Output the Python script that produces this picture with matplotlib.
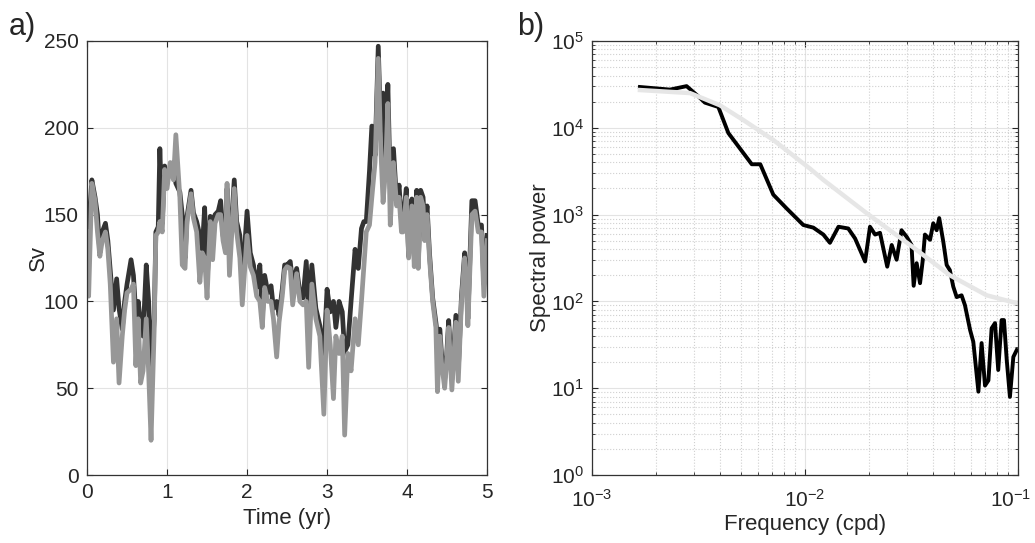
import numpy as np
import matplotlib
matplotlib.use("Agg")
import matplotlib.pyplot as plt
import matplotlib.transforms as mtransforms
from matplotlib.ticker import LogLocator, NullFormatter

plt.rcParams['font.family'] = ['Liberation Sans', 'DejaVu Sans']
plt.rcParams['mathtext.fontset'] = 'custom'
plt.rcParams['mathtext.rm'] = 'Liberation Sans'
plt.rcParams['mathtext.it'] = 'Liberation Sans:italic'
plt.rcParams['mathtext.bf'] = 'Liberation Sans:bold'

# panel a) time series (years, Sv)
t = [0.00, 0.02, 0.06, 0.10, 0.13, 0.16, 0.19, 0.23, 0.26, 0.29, 0.33, 0.37, 0.40, 0.44,
     0.47, 0.50, 0.55, 0.58, 0.61, 0.64, 0.67, 0.70, 0.74, 0.77, 0.80, 0.84, 0.86, 0.89,
     0.91, 0.94, 0.97, 1.00, 1.04, 1.08, 1.11, 1.16, 1.19, 1.225, 1.25, 1.30, 1.33, 1.37,
     1.41, 1.44, 1.47, 1.50, 1.54, 1.57, 1.60, 1.64, 1.67, 1.70, 1.73, 1.75, 1.78, 1.84,
     1.87, 1.91, 1.94, 2.00, 2.04, 2.08, 2.12, 2.16, 2.19, 2.22, 2.26, 2.30, 2.33, 2.37,
     2.40, 2.44, 2.47, 2.50, 2.54, 2.57, 2.62, 2.66, 2.70, 2.74, 2.77, 2.81, 2.86, 2.91,
     2.96, 3.00, 3.04, 3.08, 3.11, 3.15, 3.19, 3.22, 3.26, 3.30, 3.35, 3.39, 3.43, 3.46,
     3.49, 3.53, 3.56, 3.60, 3.64, 3.67, 3.70, 3.73, 3.76, 3.79, 3.83, 3.87, 3.90, 3.93,
     3.95, 3.99, 4.02, 4.06, 4.09, 4.12, 4.14, 4.17, 4.20, 4.22, 4.25, 4.28, 4.32, 4.36,
     4.38, 4.41, 4.43, 4.47, 4.49, 4.52, 4.56, 4.61, 4.64, 4.68, 4.72, 4.74, 4.76, 4.81,
     4.85, 4.89, 4.93, 4.96, 5.00]
sv_dark = [150, 142, 170, 160, 150, 128, 140, 145, 135, 118, 95, 113, 96, 84,
           100, 110, 124, 115, 92, 100, 86, 80, 121, 100, 63, 90, 140, 143,
           188, 145, 178, 170, 175, 180, 168, 163, 150, 125, 149, 164, 151, 146,
           138, 130, 154, 110, 149, 146, 150, 152, 158, 138, 130, 165, 125, 170,
           146, 138, 110, 152, 128, 121, 108, 121, 90, 115, 105, 109, 96, 100,
           92, 107, 121, 121, 123, 110, 119, 105, 102, 123, 95, 121, 96, 86,
           70, 107, 94, 100, 85, 100, 94, 71, 75, 100, 130, 119, 142, 146,
           146, 175, 201, 184, 247, 199, 220, 180, 225, 165, 188, 157, 167, 146,
           146, 165, 126, 159, 136, 164, 121, 164, 160, 142, 155, 128, 102, 88,
           80, 84, 70, 55, 65, 89, 55, 92, 60, 103, 128, 115, 90, 158,
           158, 144, 144, 110, 138]
sv_gray = [140, 103, 168, 158, 140, 126, 135, 140, 130, 110, 65, 90, 53, 80,
           95, 105, 107, 110, 63, 90, 53, 60, 90, 59, 20, 85, 138, 140,
           146, 140, 176, 165, 180, 170, 196, 160, 121, 119, 146, 162, 148, 140,
           111, 128, 125, 102, 146, 124, 145, 150, 150, 135, 128, 168, 115, 165,
           140, 125, 98, 138, 120, 115, 103, 100, 85, 108, 100, 100, 90, 68,
           88, 103, 118, 120, 119, 98, 116, 100, 98, 100, 62, 110, 90, 80,
           35, 95, 75, 44, 80, 70, 80, 23, 70, 60, 90, 75, 100, 120,
           140, 144, 160, 180, 240, 190, 157, 175, 214, 144, 180, 155, 160, 140,
           140, 160, 125, 155, 120, 160, 119, 160, 155, 135, 150, 125, 100, 85,
           48, 80, 65, 50, 62, 85, 49, 88, 54, 100, 125, 110, 86, 150,
           152, 140, 140, 103, 135]

# panel b) spectra (log10 frequency in cpd, log10 power)
logf_black = [-2.775, -2.634, -2.556, -2.50, -2.47, -2.407, -2.36, -2.305, -2.25, -2.21,
              -2.149, -2.086, -2.008, -1.961, -1.914, -1.883, -1.843, -1.797, -1.765,
              -1.718, -1.695, -1.671, -1.648, -1.614, -1.593, -1.57, -1.547, -1.523,
              -1.50, -1.49, -1.476, -1.46, -1.447, -1.437, -1.413, -1.398, -1.382,
              -1.37, -1.351, -1.335, -1.32, -1.304, -1.288, -1.265, -1.249, -1.225,
              -1.21, -1.186, -1.171, -1.155, -1.139, -1.124, -1.108, -1.093, -1.077,
              -1.066, -1.053, -1.038, -1.022, -1.006]
logp_black = [4.47, 4.44, 4.48, 4.36, 4.29, 4.24, 3.94, 3.76, 3.58, 3.58,
              3.23, 3.07, 2.88, 2.85, 2.77, 2.675, 2.86, 2.84, 2.725,
              2.46, 2.86, 2.77, 2.79, 2.40, 2.65, 2.48, 2.82, 2.745,
              2.65, 2.18, 2.44, 2.21, 2.48, 2.77, 2.71, 2.90, 2.82,
              2.96, 2.69, 2.42, 2.36, 2.17, 2.05, 2.07, 1.955, 1.67,
              1.535, 0.96, 1.52, 1.03, 1.09, 1.69, 1.75, 1.21, 1.785,
              1.785, 1.325, 0.90, 1.36, 1.44]
logf_gray = [-2.775, -2.54, -2.40, -2.29, -2.149, -1.977, -1.914, -1.71, -1.507,
             -1.319, -1.147, -1.006]
logp_gray = [4.435, 4.40, 4.26, 4.09, 3.86, 3.53, 3.40, 3.015, 2.65, 2.30, 2.07, 1.98]
freq_ticks = [1e-3, 1e-2, 1e-1]
power_ticks = [1e0, 1e1, 1e2, 1e3, 1e4, 1e5]

txt = '#262626'
fig = plt.figure(figsize=(10.35, 5.43), dpi=100)
ax1 = fig.add_axes([0.0841, 0.1252, 0.3865, 0.7993])
ax2 = fig.add_axes([0.572, 0.1252, 0.4116, 0.7993])

ax1.plot(t, sv_dark, color='#333333', lw=3.4)
ax1.plot(t, sv_gray, color='#979797', lw=3.4)
ax1.set_xlim(0, 5)
ax1.set_ylim(0, 250)
ax1.set_xticks(range(6))
ax1.set_yticks(range(0, 251, 50))
ax1.grid(True, color='#e3e3e3', lw=0.8)
ax1.set_xlabel('Time (yr)', fontsize=16, color=txt, labelpad=4)
ax1.set_ylabel('Sv', fontsize=16, color=txt, labelpad=-4)

f_black = [10 ** v for v in logf_black]
p_black = [10 ** v for v in logp_black]
f_gray = [10 ** v for v in logf_gray]
p_gray = [10 ** v for v in logp_gray]
ax2.plot(f_black, p_black, color='black', lw=2.8)
ax2.plot(f_gray, p_gray, color='#e6e6e6', lw=3.2)
ax2.set_xscale('log')
ax2.set_yscale('log')
ax2.set_xlim(1e-3, 1e-1)
ax2.set_ylim(1e0, 1e5)
ax2.set_xticks(freq_ticks)
ax2.set_yticks(power_ticks)
ax2.xaxis.set_minor_locator(LogLocator(base=10, subs=np.arange(2, 10), numticks=20))
ax2.yaxis.set_minor_locator(LogLocator(base=10, subs=np.arange(2, 10), numticks=20))
ax2.xaxis.set_minor_formatter(NullFormatter())
ax2.yaxis.set_minor_formatter(NullFormatter())
ax2.grid(True, which='major', color='#e3e3e3', lw=0.8)
ax2.grid(True, which='minor', color='#d0d0d0', lw=0.8, ls=':')
ax2.set_xlabel('Frequency (cpd)', fontsize=16, color=txt, labelpad=2)
ax2.set_ylabel('Spectral power', fontsize=16, color=txt, labelpad=0)

for ax in (ax1, ax2):
    ax.set_axisbelow(True)
    ax.tick_params(which='both', direction='in', top=True, right=True,
                   labelsize=15, colors=txt, length=4, pad=6)
    ax.tick_params(which='minor', length=2.5)
    for s in ax.spines.values():
        s.set_color('#333333')
        s.set_linewidth(0.9)
ax2.tick_params(axis='x', which='major', pad=10)

# keep the last frequency label inside the figure
last = ax2.xaxis.get_major_ticks()[-1].label1
last.set_transform(last.get_transform() +
                   mtransforms.ScaledTranslation(-7 / 100, 0, fig.dpi_scale_trans))

fig.text(0.008, 0.935, 'a)', fontsize=22, color=txt)
fig.text(0.500, 0.935, 'b)', fontsize=22, color=txt)

fig.savefig('out.png', dpi=100)
